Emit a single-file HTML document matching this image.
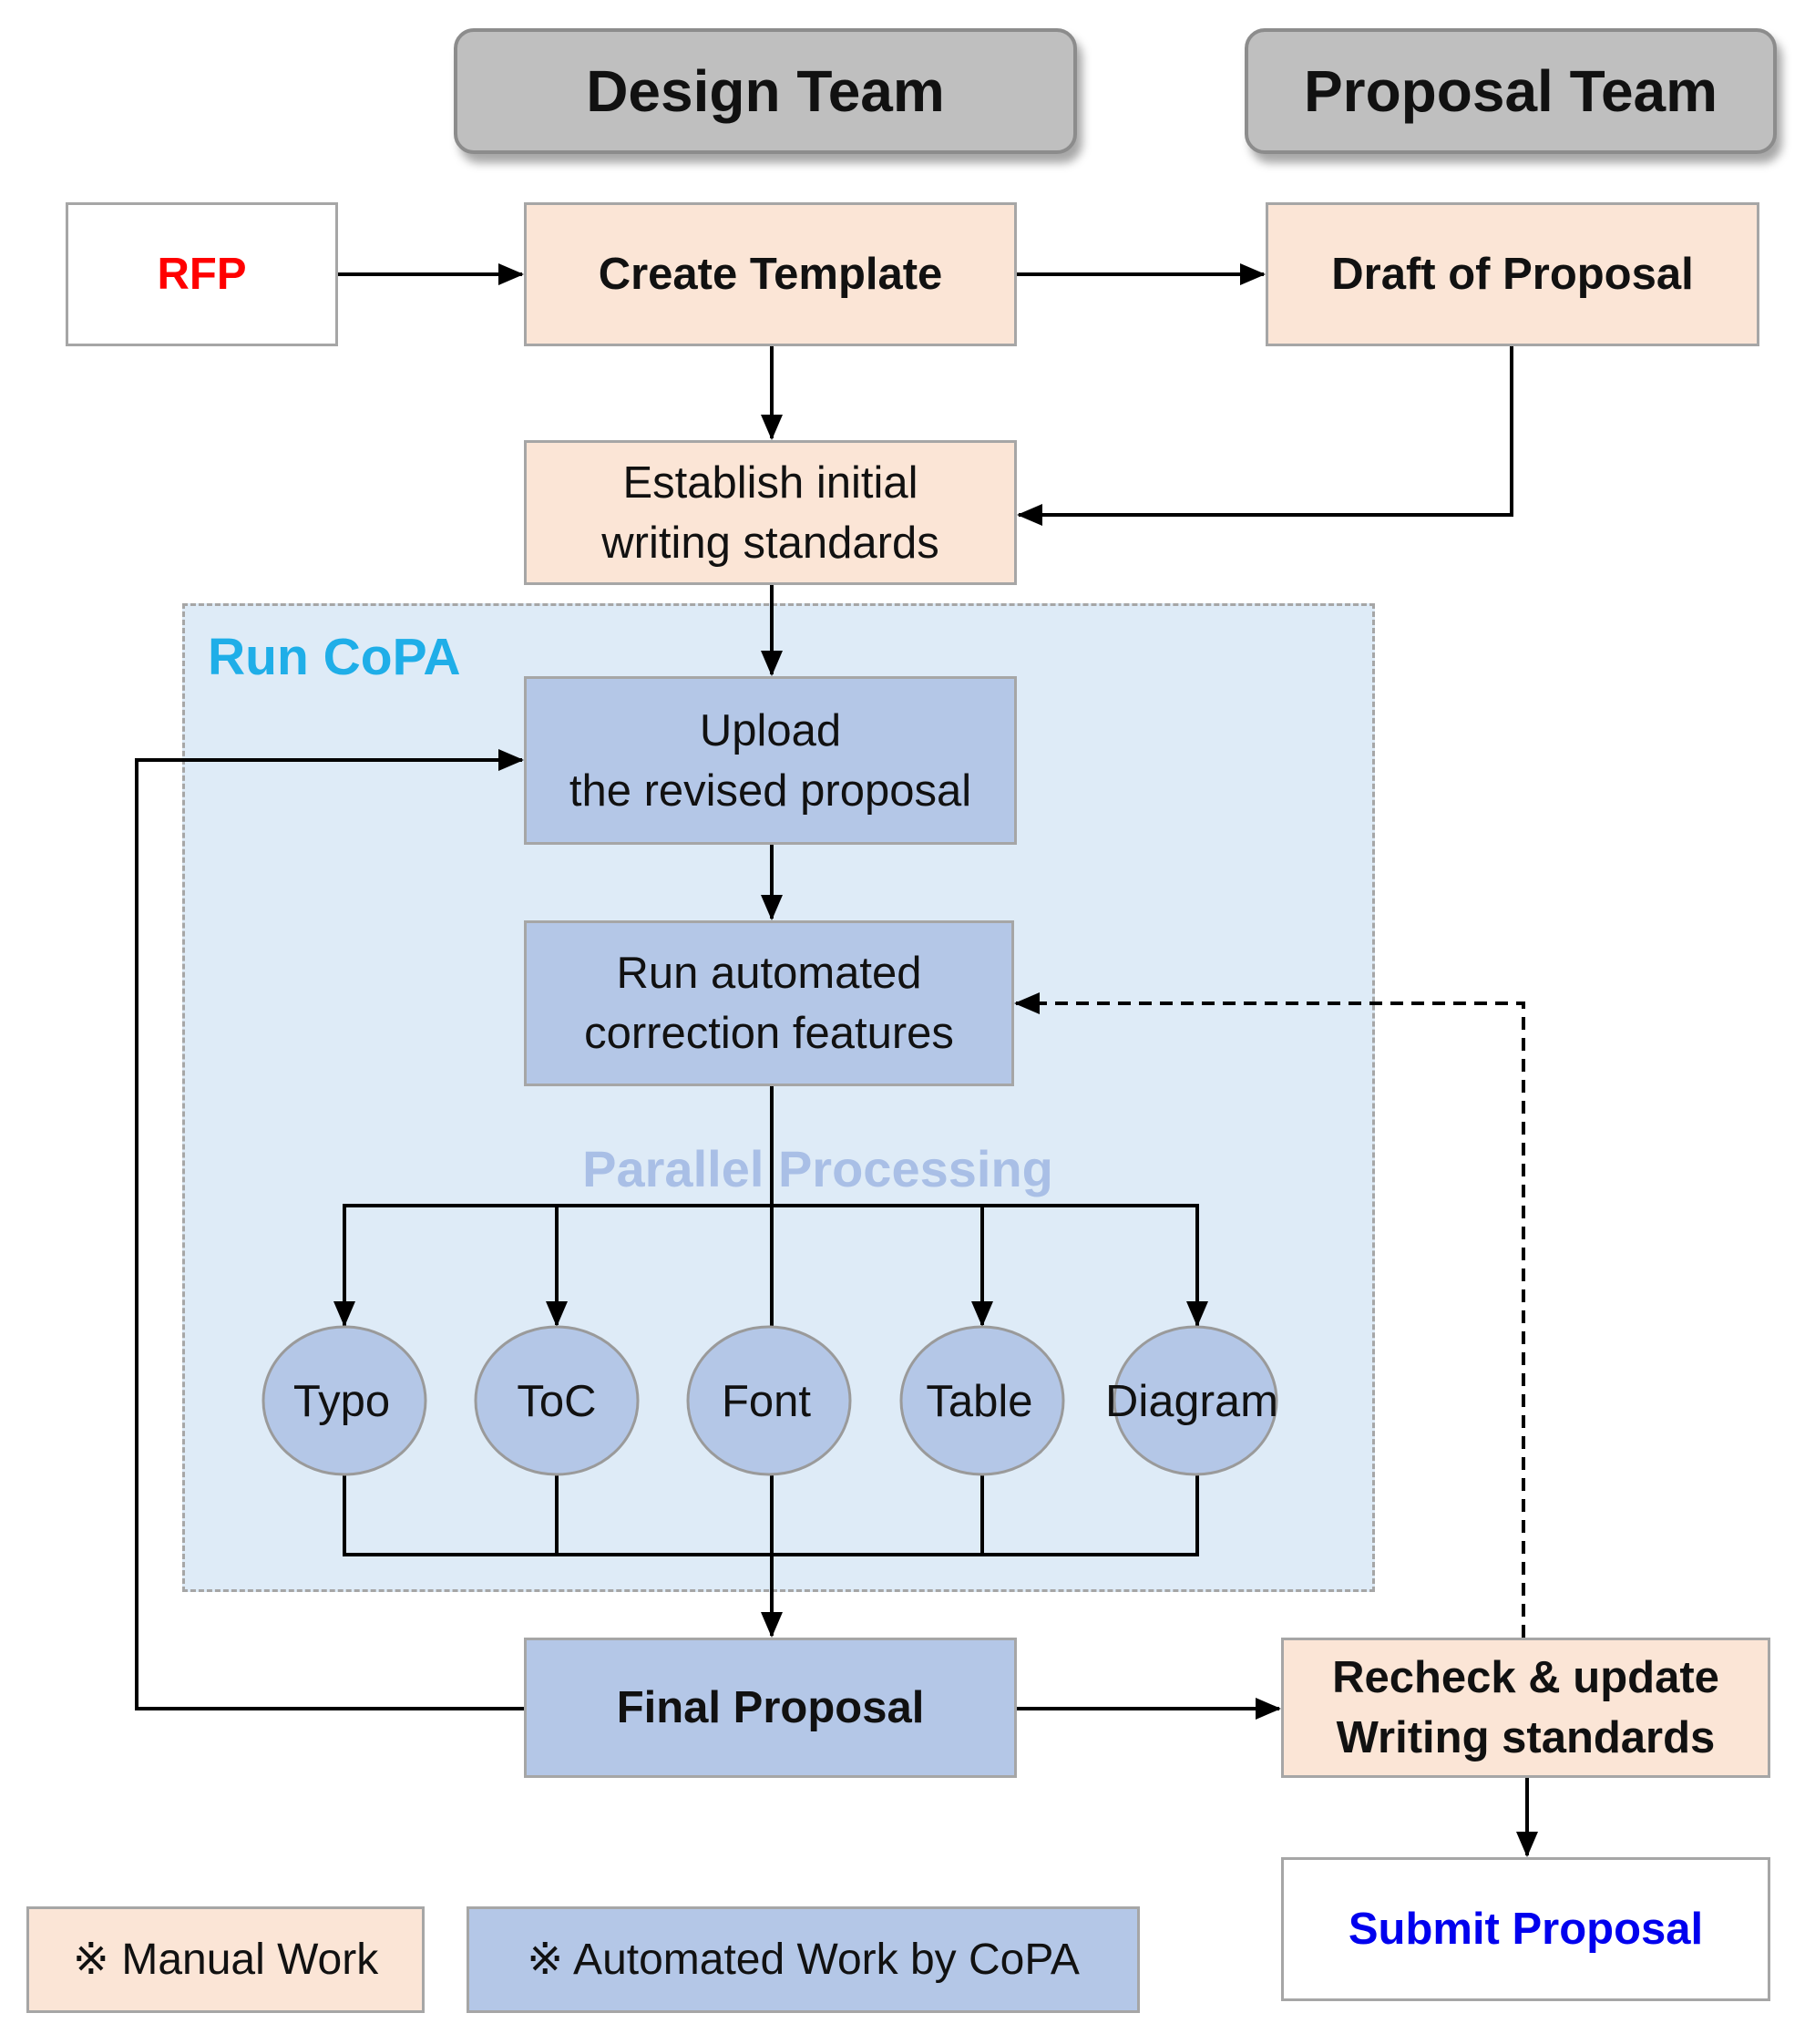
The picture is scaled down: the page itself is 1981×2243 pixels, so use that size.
<!DOCTYPE html>
<html><head><meta charset="utf-8"><style>
html,body{margin:0;padding:0;background:#fff}
body{width:1981px;height:2243px;position:relative;overflow:hidden;font-family:"Liberation Sans",sans-serif}
.b{position:absolute;box-sizing:border-box;border:3px solid #a6a6a6;display:flex;align-items:center;justify-content:center;text-align:center;color:#111;font-size:49px;line-height:66px}
.p{background:#fbe5d6}
.a{background:#b4c7e7}
.h{background:#bfbfbf;border-radius:22px;border:4px solid #8c8c8c;box-shadow:6px 10px 10px rgba(0,0,0,.35);font-weight:bold;font-size:64px}
</style></head><body>
<div style="position:absolute;left:200px;top:662px;width:1309px;height:1085px;background:#deebf7;border:3px dashed #a6a6a6;box-sizing:border-box"></div>
<div style="position:absolute;left:228px;top:688px;font-size:57px;font-weight:bold;color:#1faee8">Run CoPA</div>
<div style="position:absolute;left:560px;top:1250px;width:675px;text-align:center;font-size:56px;font-weight:bold;color:#a9bfe6">Parallel Processing</div>

<div class="b h" style="left:498px;top:31px;width:684px;height:138px">Design Team</div>
<div class="b h" style="left:1366px;top:31px;width:584px;height:138px">Proposal Team</div>
<div class="b" style="left:72px;top:222px;width:299px;height:158px;background:#fff;color:#ff0000;font-weight:bold">RFP</div>
<div class="b p" style="left:575px;top:222px;width:541px;height:158px;font-weight:bold">Create Template</div>
<div class="b p" style="left:1389px;top:222px;width:542px;height:158px;font-weight:bold">Draft of Proposal</div>
<div class="b p" style="left:575px;top:483px;width:541px;height:159px">Establish initial<br>writing standards</div>
<div class="b a" style="left:575px;top:742px;width:541px;height:185px">Upload<br>the revised proposal</div>
<div class="b a" style="left:575px;top:1010px;width:538px;height:182px">Run automated<br>correction features</div>
<div class="b a" style="left:575px;top:1797px;width:541px;height:154px;font-weight:bold">Final Proposal</div>
<div class="b p" style="left:1406px;top:1797px;width:537px;height:154px;font-weight:bold">Recheck &amp; update<br>Writing standards</div>
<div class="b" style="left:1406px;top:2038px;width:537px;height:158px;background:#fff;color:#0000ee;font-weight:bold">Submit Proposal</div>
<div class="b p" style="left:29px;top:2092px;width:437px;height:117px;font-size:48px">※ Manual Work</div>
<div class="b a" style="left:512px;top:2092px;width:739px;height:117px;font-size:48px">※ Automated Work by CoPA</div>

<svg width="1981" height="2243" style="position:absolute;left:0;top:0">
<defs>
<marker id="n" markerWidth="28" markerHeight="28" refX="26" refY="14" orient="auto" markerUnits="userSpaceOnUse"><path d="M0,2L28,14L0,26z" fill="#000"/></marker></defs>
<g stroke="#000" stroke-width="4" fill="none">
<path d="M371,301H573" marker-end="url(#n)"/>
<path d="M1116,301H1387" marker-end="url(#n)"/>
<path d="M847,380V481" marker-end="url(#n)"/>
<path d="M1659,380V565H1118" marker-end="url(#n)"/>
<path d="M847,642V740" marker-end="url(#n)"/>
<path d="M847,927V1008" marker-end="url(#n)"/>
<path d="M847,1192V1795" marker-end="url(#n)"/>
<path d="M378,1456V1323H1314V1456"/>
<path d="M378,1323V1454" marker-end="url(#n)"/>
<path d="M611,1323V1454" marker-end="url(#n)"/>
<path d="M1078,1323V1454" marker-end="url(#n)"/>
<path d="M1314,1323V1454" marker-end="url(#n)"/>
<path d="M378,1619V1706H1314V1619M611,1619V1706M1078,1619V1706"/>
<path d="M575,1875H150V834H573" marker-end="url(#n)"/>
<path d="M1116,1875H1404" marker-end="url(#n)"/>
<path d="M1676,1951V2036" marker-end="url(#n)"/>
<path d="M1672,1797V1101H1115" stroke-dasharray="14,9" marker-end="url(#n)"/>
</g>
<g fill="#b4c7e7" stroke="#9a9a9a" stroke-width="3">
<ellipse cx="378" cy="1537" rx="89" ry="81"/><ellipse cx="611" cy="1537" rx="89" ry="81"/>
<ellipse cx="844" cy="1537" rx="89" ry="81"/><ellipse cx="1078" cy="1537" rx="89" ry="81"/>
<ellipse cx="1312" cy="1537" rx="89" ry="81"/>
</g>
<g font-family="Liberation Sans" font-size="49" text-anchor="middle" fill="#111">
<text x="375" y="1554">Typo</text><text x="611" y="1554">ToC</text><text x="841" y="1554">Font</text><text x="1075" y="1554">Table</text><text x="1308" y="1554" textLength="190" lengthAdjust="spacingAndGlyphs">Diagram</text>
</g>
</svg>
</body></html>
